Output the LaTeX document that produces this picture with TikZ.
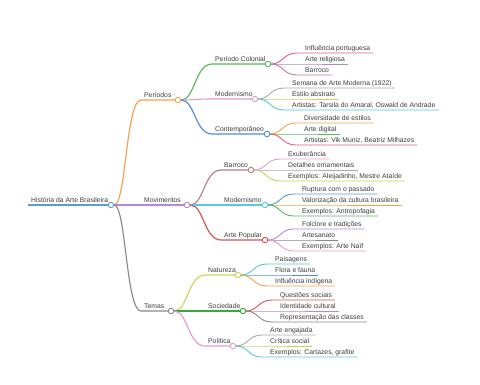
\documentclass[tikz,border=0pt]{standalone}
\usepackage{fontspec}
\setmainfont{Liberation Sans}
\definecolor{txt}{HTML}{3C3C3C}
\definecolor{cblue}{HTML}{5B9BD5}
\definecolor{corange}{HTML}{F6A04D}
\definecolor{cpurple}{HTML}{B48AD6}
\definecolor{cgray}{HTML}{8A8A8A}
\definecolor{cgreen}{HTML}{5CB85C}
\definecolor{cpink}{HTML}{E59CCF}
\definecolor{cblue2}{HTML}{4A90D9}
\definecolor{cbrown}{HTML}{B37F88}
\definecolor{ccyan}{HTML}{5BC8DC}
\definecolor{cred}{HTML}{D9534F}
\definecolor{cygreen}{HTML}{C5D65A}
\definecolor{cgreen2}{HTML}{3AA83A}
\definecolor{crose}{HTML}{E0607E}
\definecolor{cmauve}{HTML}{C77B9A}
\definecolor{clgray}{HTML}{AAAAAA}
\definecolor{clpurple}{HTML}{A58FC8}
\tikzset{
  lbl/.style={font=\fontsize{6.8}{8}\selectfont, text=txt, inner xsep=3pt, inner ysep=0pt, anchor=base west},
  knot/.style={circle, draw, fill=white, minimum size=5.5pt, inner sep=0pt, line width=0.9pt},
  br/.style={line width=1.15pt},
  lf/.style={line width=0.9pt},
}
% #1 name, #2 parent knot, #3 parent x, #4 parent y, #5 start x, #6 y, #7 knot x, #8 colour, #9 text
\newcommand\mmbranch[9]{%
  \coordinate (#1s) at (#5,#6);
  \node[lbl] (#1) at (#5,#6-2.5) {#9};
  \node[knot, draw=#8] (#1k) at (#7,#6) {};
  \draw[br, draw=#8] (#2) .. controls ({(#3+#5)/2},#4) and ({(#3+#5)/2},#6) .. (#1s) -- (#1k);
}
% #1 name, #2 parent knot, #3 parent x, #4 parent y, #5 leaf y, #6 colour, #7 text
\newcommand\mmleaf[7]{%
  \coordinate (#1s) at (#3+29,#5);
  \node[lbl] (#1) at (#3+34,#5-2.2) {#7};
  \draw[lf, draw=#6] (#2) .. controls (#3+15,#4) and (#3+15,#5) .. (#1s) -- (#1.east |- #1s);
}
\begin{document}
\begin{tikzpicture}[x=1pt, y=-1pt]
\useasboundingbox[fill=white] (0,0) rectangle (480,384);
% root
\coordinate (rs) at (28,205);
\node[lbl] (root) at (28,202.5) {História da Arte Brasileira};
\node[knot, draw=cblue] (rk) at (111,205) {};
\draw[br, draw=cblue] (rs) -- (rk);
% level 1
\mmbranch{P}{rk}{111}{205}{141}{100}{178}{corange}{Períodos}
\mmbranch{M}{rk}{111}{205}{141}{205}{187}{cpurple}{Movimentos}
\mmbranch{T}{rk}{111}{205}{141}{311}{171}{cgray}{Temas}
% level 2 under Períodos
\mmbranch{PC}{Pk}{178}{100}{212}{64}{268}{cgreen}{Período Colonial}
\mmbranch{PM}{Pk}{178}{100}{212}{99}{255}{cpink}{Modernismo}
\mmbranch{PT}{Pk}{178}{100}{212}{134}{267}{cblue2}{Contemporâneo}
% level 2 under Movimentos
\mmbranch{MB}{Mk}{187}{205}{221}{170}{251}{cbrown}{Barroco}
\mmbranch{MM}{Mk}{187}{205}{221}{205}{265}{ccyan}{Modernismo}
\mmbranch{MA}{Mk}{187}{205}{221}{240}{265}{cred}{Arte Popular}
% level 2 under Temas
\mmbranch{TN}{Tk}{171}{311}{205}{275}{238}{cygreen}{Natureza}
\mmbranch{TS}{Tk}{171}{311}{205}{311}{243}{cgreen2}{Sociedade}
\mmbranch{TP}{Tk}{171}{311}{205}{346}{233}{cpink}{Política}
% leaves
\mmleaf{PCa}{PCk}{268}{64}{53}{crose}{Influência portuguesa}
\mmleaf{PCb}{PCk}{268}{64}{64}{clpurple}{Arte religiosa}
\mmleaf{PCc}{PCk}{268}{64}{75}{cmauve}{Barroco}
\mmleaf{PMa}{PMk}{255}{99}{88}{clgray}{Semana de Arte Moderna (1922)}
\mmleaf{PMb}{PMk}{255}{99}{99}{cygreen}{Estilo abstrato}
\mmleaf{PMc}{PMk}{255}{99}{110}{ccyan}{Artistas: Tarsila do Amaral, Oswald de Andrade}
\mmleaf{PTa}{PTk}{267}{134}{123}{corange}{Diversidade de estilos}
\mmleaf{PTb}{PTk}{267}{134}{134}{cgreen}{Arte digital}
\mmleaf{PTc}{PTk}{267}{134}{145}{crose}{Artistas: Vik Muniz, Beatriz Milhazes}
\mmleaf{MBa}{MBk}{251}{170}{159}{cpink}{Exuberância}
\mmleaf{MBb}{MBk}{251}{170}{170}{clgray}{Detalhes ornamentais}
\mmleaf{MBc}{MBk}{251}{170}{181}{cygreen}{Exemplos: Aleijadinho, Mestre Ataíde}
\mmleaf{MMa}{MMk}{265}{205}{194}{cblue}{Ruptura com o passado}
\mmleaf{MMb}{MMk}{265}{205}{205}{corange}{Valorização da cultura brasileira}
\mmleaf{MMc}{MMk}{265}{205}{216}{cgreen}{Exemplos: Antropofagia}
\mmleaf{MAa}{MAk}{265}{240}{229}{cpurple}{Folclore e tradições}
\mmleaf{MAb}{MAk}{265}{240}{240}{cgray}{Artesanato}
\mmleaf{MAc}{MAk}{265}{240}{251}{cpink}{Exemplos: Arte Naïf}
\mmleaf{TNa}{TNk}{238}{275}{264}{ccyan}{Paisagens}
\mmleaf{TNb}{TNk}{238}{275}{275}{cblue2}{Flora e fauna}
\mmleaf{TNc}{TNk}{238}{275}{286}{corange}{Influência indígena}
\mmleaf{TSa}{TSk}{243}{311}{300}{cred}{Questões sociais}
\mmleaf{TSb}{TSk}{243}{311}{311}{cpurple}{Identidade cultural}
\mmleaf{TSc}{TSk}{243}{311}{322}{cgray}{Representação das classes}
\mmleaf{TPa}{TPk}{233}{346}{335}{clgray}{Arte engajada}
\mmleaf{TPb}{TPk}{233}{346}{346}{cygreen}{Crítica social}
\mmleaf{TPc}{TPk}{233}{346}{357}{ccyan}{Exemplos: Cartazes, grafite}
\end{tikzpicture}
\end{document}
